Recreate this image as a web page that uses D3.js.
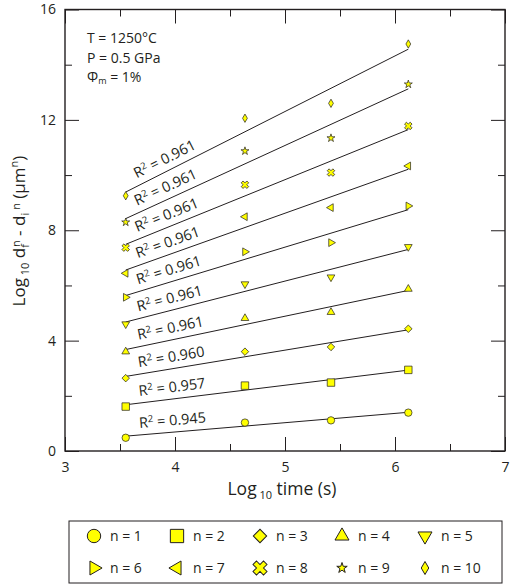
<!DOCTYPE html>
<html><head><meta charset="utf-8">
<script src="https://cdn.jsdelivr.net/npm/d3@7"></script>
<style>
body{margin:0;background:#fff}
svg{display:block}
text{font-family:"Open Sans",sans-serif;fill:#231f20;white-space:pre}
</style>
</head><body><svg id="c" width="512" height="584"></svg>
<script>
// ---- data ----
const logTime = [3.552, 4.636, 5.418, 6.121];
const seriesNames = ["n = 1","n = 2","n = 3","n = 4","n = 5","n = 6","n = 7","n = 8","n = 9","n = 10"];
const n1  = [0.48, 1.03, 1.11, 1.39];
const n2  = [1.61, 2.37, 2.48, 2.94];
const n3  = [2.64, 3.60, 3.77, 4.43];
const n4  = [3.60, 4.81, 5.03, 5.87];
const n5  = [4.60, 6.05, 6.30, 7.40];
const n6  = [5.57, 7.22, 7.55, 8.88];
const n7  = [6.44, 8.49, 8.82, 10.33];
const n8  = [7.37, 9.65, 10.09, 11.78];
const n9  = [8.29, 10.87, 11.34, 13.29];
const n10 = [9.25, 12.06, 12.60, 14.75];
const seriesValues = [n1,n2,n3,n4,n5,n6,n7,n8,n9,n10];
const r2Values = ["0.945","0.957","0.960","0.961","0.961","0.961","0.961","0.961","0.961","0.961"];
const xMajorTicks = [3,4,5,6,7];
const xMinorTicks = [3.5,4.5,5.5,6.5];
const yMajorTicks = [0,4,8,12,16];
const yMinorTicks = [2,6,10,14];

// ---- styling ----
const ink = "#231f20";
const fillYellow = "#ffff00";
const shapes = [
  {type:d3.symbolCircle, rot:0},
  {type:d3.symbolSquare, rot:0},
  {type:d3.symbolSquare, rot:45},
  {type:d3.symbolTriangle, rot:0},
  {type:d3.symbolTriangle, rot:180},
  {type:d3.symbolTriangle, rot:90},
  {type:d3.symbolTriangle, rot:-90},
  {type:d3.symbolCross, rot:45},
  {type:d3.symbolStar, rot:0},
  {type:d3.symbolDiamond, rot:0}
];
const plotSizes   = [43,56,28,26,26,26,26,35,20,20];
const legendSizes = [141,177,89,85,85,85,85,122,34,49];

const svg = d3.select("#c");
const x = d3.scaleLinear().domain([3,7]).range([65,505]);
const y = d3.scaleLinear().domain([0,16]).range([451,9.5]);

// ---- axes (inward ticks on all four sides) ----
function styleAxis(g){
  g.select(".domain").remove();
  g.selectAll("line").attr("stroke",ink).attr("stroke-width",1);
  g.selectAll("text").style("font-size","14px").style("font-family","'Open Sans',sans-serif").attr("fill",ink);
}
svg.append("g").attr("transform",`translate(0,${y(0)})`)
  .call(d3.axisBottom(x).tickValues(xMajorTicks).tickSizeInner(-14).tickSizeOuter(0).tickPadding(11).tickFormat(d3.format("d"))).call(styleAxis);
svg.append("g").attr("transform",`translate(0,${y(0)})`)
  .call(d3.axisBottom(x).tickValues(xMinorTicks).tickSizeInner(-7).tickSizeOuter(0).tickFormat("")).call(styleAxis);
svg.append("g").attr("transform",`translate(0,${y(16)})`)
  .call(d3.axisTop(x).tickValues(xMajorTicks).tickSizeInner(-14).tickSizeOuter(0).tickFormat("")).call(styleAxis);
svg.append("g").attr("transform",`translate(0,${y(16)})`)
  .call(d3.axisTop(x).tickValues(xMinorTicks).tickSizeInner(-7).tickSizeOuter(0).tickFormat("")).call(styleAxis);
svg.append("g").attr("transform",`translate(${x(3)},0)`)
  .call(d3.axisLeft(y).tickValues(yMajorTicks).tickSizeInner(-14).tickSizeOuter(0).tickPadding(9).tickFormat(d3.format("d"))).call(styleAxis);
svg.append("g").attr("transform",`translate(${x(3)},0)`)
  .call(d3.axisLeft(y).tickValues(yMinorTicks).tickSizeInner(-7).tickSizeOuter(0).tickFormat("")).call(styleAxis);
svg.append("g").attr("transform",`translate(${x(7)},0)`)
  .call(d3.axisRight(y).tickValues(yMajorTicks).tickSizeInner(-14).tickSizeOuter(0).tickFormat("")).call(styleAxis);
svg.append("g").attr("transform",`translate(${x(7)},0)`)
  .call(d3.axisRight(y).tickValues(yMinorTicks).tickSizeInner(-7).tickSizeOuter(0).tickFormat("")).call(styleAxis);

svg.append("rect").attr("x",x(3)).attr("y",y(16)).attr("width",x(7)-x(3)).attr("height",y(0)-y(16))
  .attr("fill","none").attr("stroke",ink).attr("stroke-width",1.4);

// ---- regression lines, R² labels and points ----
function fit(xs, ys){
  const n = xs.length, mx = d3.mean(xs), my = d3.mean(ys);
  let sxy=0, sxx=0;
  for(let i=0;i<n;i++){ sxy += (xs[i]-mx)*(ys[i]-my); sxx += (xs[i]-mx)*(xs[i]-mx); }
  const b = sxy/sxx; return {b, a: my - b*mx};
}
const xLo = d3.min(logTime), xHi = d3.max(logTime);
seriesValues.forEach((vals, i) => {
  const f = fit(logTime, vals);
  const x1 = x(xLo), y1 = y(f.a + f.b*xLo), x2 = x(xHi), y2 = y(f.a + f.b*xHi);
  svg.append("line").attr("x1",x1).attr("y1",y1).attr("x2",x2).attr("y2",y2)
    .attr("stroke",ink).attr("stroke-width",1);
  const ang = Math.atan2(y2-y1, x2-x1)*180/Math.PI;
  const lx = 140, ly = y1 + (y2-y1)*(lx-x1)/(x2-x1);
  const t = svg.append("text").attr("transform",`translate(${lx},${ly}) rotate(${ang})`)
    .attr("y",-7).style("font-size","14.5px");
  t.append("tspan").text("R");
  t.append("tspan").attr("dy",-5).style("font-size","9.5px").text("2");
  t.append("tspan").attr("dy",5).text(" = " + r2Values[i]);
});
seriesValues.forEach((vals, i) => {
  const sym = d3.symbol().type(shapes[i].type).size(plotSizes[i]);
  svg.append("g").selectAll("path").data(vals).join("path")
    .attr("d", sym)
    .attr("transform",(d,j)=>`translate(${x(logTime[j])},${y(d)}) rotate(${shapes[i].rot})`)
    .attr("fill",fillYellow).attr("stroke",ink).attr("stroke-width",0.7);
});

// ---- annotation ----
const ann = svg.append("g").style("font-size","14px");
ann.append("text").attr("x",87).attr("y",43).text("T = 1250°C");
ann.append("text").attr("x",87).attr("y",62.5).text("P = 0.5 GPa");
const phi = ann.append("text").attr("x",87).attr("y",81.5);
phi.append("tspan").text("Φ");
phi.append("tspan").attr("dy",2).style("font-size","9px").text("m");
phi.append("tspan").attr("dy",-2).text(" = 1%");

// ---- axis titles ----
const xt = svg.append("text").attr("x",282).attr("y",495).attr("text-anchor","middle").style("font-size","17.5px");
xt.append("tspan").text("Log");
xt.append("tspan").attr("dy",4).style("font-size","11px").text(" 10");
xt.append("tspan").attr("dy",-4).text(" time (s)");

const yt = svg.append("text").attr("transform","translate(25,231) rotate(-90)").attr("text-anchor","middle").style("font-size","17px");
yt.append("tspan").text("Log");
yt.append("tspan").attr("dy",4).style("font-size","11px").text(" 10");
yt.append("tspan").attr("dy",-4).text(" d");
yt.append("tspan").attr("dy",4).style("font-size","11px").text("f");
yt.append("tspan").attr("dy",-9).attr("dx",-3).style("font-size","11px").text("n");
yt.append("tspan").attr("dy",5).text(" - d");
yt.append("tspan").attr("dy",4).style("font-size","11px").text("i");
yt.append("tspan").attr("dy",-9).attr("dx",3).style("font-size","11px").text("n");
yt.append("tspan").attr("dy",5).text(" (μm");
yt.append("tspan").attr("dy",-7).style("font-size","11px").text("n");
yt.append("tspan").attr("dy",7).text(")");

// ---- legend ----
svg.append("rect").attr("x",69).attr("y",521).attr("width",433).attr("height",62)
  .attr("fill","none").attr("stroke",ink).attr("stroke-width",1);
const legX = [94,177,260,342,425], legY = [536,568];
seriesNames.forEach((name,i) => {
  const cx = legX[i%5], cy = legY[Math.floor(i/5)];
  svg.append("path").attr("d", d3.symbol().type(shapes[i].type).size(legendSizes[i])())
    .attr("transform",`translate(${cx},${cy}) rotate(${shapes[i].rot})`)
    .attr("fill",fillYellow).attr("stroke",ink).attr("stroke-width",1);
  svg.append("text").attr("x",cx+16).attr("y",cy+5).style("font-size","14px").text(name);
});
</script>
</body></html>
